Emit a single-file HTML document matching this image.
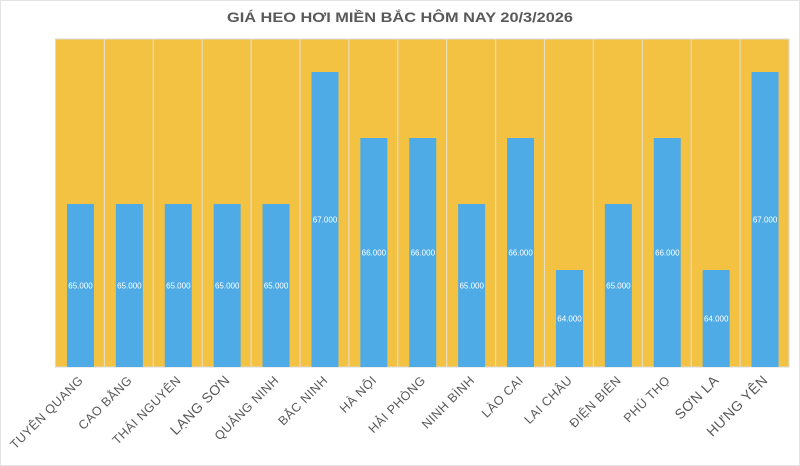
<!DOCTYPE html>
<html><head><meta charset="utf-8"><style>html,body{margin:0;padding:0;background:#fff}svg{display:block}</style></head>
<body>
<svg width="800" height="466" xmlns="http://www.w3.org/2000/svg" font-family="'Liberation Sans','DejaVu Sans',sans-serif">
<rect x="0.5" y="0.5" width="799" height="465" fill="#fff" stroke="#e3e3e3"/>
<text x="400" y="22" text-anchor="middle" font-size="14" font-weight="bold" fill="#595959" textLength="346" lengthAdjust="spacingAndGlyphs">GIÁ HEO HƠI MIỀN BẮC HÔM NAY 20/3/2026</text>
<rect x="55.5" y="39" width="733.5" height="328" fill="#f4c242" stroke="#d9d9d9"/>
<g stroke="#e6dcc0" stroke-width="1.2">
<line x1="104.4" y1="39" x2="104.4" y2="367"/><line x1="153.3" y1="39" x2="153.3" y2="367"/><line x1="202.2" y1="39" x2="202.2" y2="367"/><line x1="251.1" y1="39" x2="251.1" y2="367"/><line x1="300" y1="39" x2="300" y2="367"/><line x1="348.9" y1="39" x2="348.9" y2="367"/><line x1="397.8" y1="39" x2="397.8" y2="367"/><line x1="446.7" y1="39" x2="446.7" y2="367"/><line x1="495.6" y1="39" x2="495.6" y2="367"/><line x1="544.5" y1="39" x2="544.5" y2="367"/><line x1="593.4" y1="39" x2="593.4" y2="367"/><line x1="642.3" y1="39" x2="642.3" y2="367"/><line x1="691.2" y1="39" x2="691.2" y2="367"/><line x1="740.1" y1="39" x2="740.1" y2="367"/>
</g>
<g fill="#4eabe6">
<rect x="66.95" y="204" width="27" height="163"/>
<rect x="115.85" y="204" width="27" height="163"/>
<rect x="164.75" y="204" width="27" height="163"/>
<rect x="213.65" y="204" width="27" height="163"/>
<rect x="262.55" y="204" width="27" height="163"/>
<rect x="311.45" y="72" width="27" height="295"/>
<rect x="360.35" y="138" width="27" height="229"/>
<rect x="409.25" y="138" width="27" height="229"/>
<rect x="458.15" y="204" width="27" height="163"/>
<rect x="507.05" y="138" width="27" height="229"/>
<rect x="555.95" y="270" width="27" height="97"/>
<rect x="604.85" y="204" width="27" height="163"/>
<rect x="653.75" y="138" width="27" height="229"/>
<rect x="702.65" y="270" width="27" height="97"/>
<rect x="751.55" y="72" width="27" height="295"/>
</g>
<g fill="#fff" font-size="8" text-anchor="middle">
<text x="80.5" y="288.5">65.000</text>
<text x="129.4" y="288.5">65.000</text>
<text x="178.3" y="288.5">65.000</text>
<text x="227.2" y="288.5">65.000</text>
<text x="276.1" y="288.5">65.000</text>
<text x="325" y="222.5">67.000</text>
<text x="373.9" y="255.5">66.000</text>
<text x="422.8" y="255.5">66.000</text>
<text x="471.7" y="288.5">65.000</text>
<text x="520.6" y="255.5">66.000</text>
<text x="569.5" y="321.5">64.000</text>
<text x="618.4" y="288.5">65.000</text>
<text x="667.3" y="255.5">66.000</text>
<text x="716.2" y="321.5">64.000</text>
<text x="765.1" y="222.5">67.000</text>
</g>
<g fill="#595959" font-size="12.5" text-anchor="end" letter-spacing="0.5">
<text transform="translate(84,381) rotate(-45)">TUYÊN QUANG</text>
<text transform="translate(132.9,381) rotate(-45)">CAO BẰNG</text>
<text transform="translate(181.8,381) rotate(-45)">THÁI NGUYÊN</text>
<text transform="translate(230.7,381) rotate(-45)" font-size="14">LẠNG SƠN</text>
<text transform="translate(279.6,381) rotate(-45)">QUẢNG NINH</text>
<text transform="translate(328.5,381) rotate(-45)">BẮC NINH</text>
<text transform="translate(377.4,381) rotate(-45)">HÀ NỘI</text>
<text transform="translate(426.3,381) rotate(-45)">HẢI PHÒNG</text>
<text transform="translate(475.2,381) rotate(-45)">NINH BÌNH</text>
<text transform="translate(524.1,381) rotate(-45)">LÀO CAI</text>
<text transform="translate(573,381) rotate(-45)">LAI CHÂU</text>
<text transform="translate(621.9,381) rotate(-45)">ĐIỆN BIÊN</text>
<text transform="translate(670.8,381) rotate(-45)">PHÚ THỌ</text>
<text transform="translate(719.7,381) rotate(-45)" font-size="14">SƠN LA</text>
<text transform="translate(768.6,381) rotate(-45)" font-size="14">HƯNG YÊN</text>
</g>
</svg>
</body></html>
